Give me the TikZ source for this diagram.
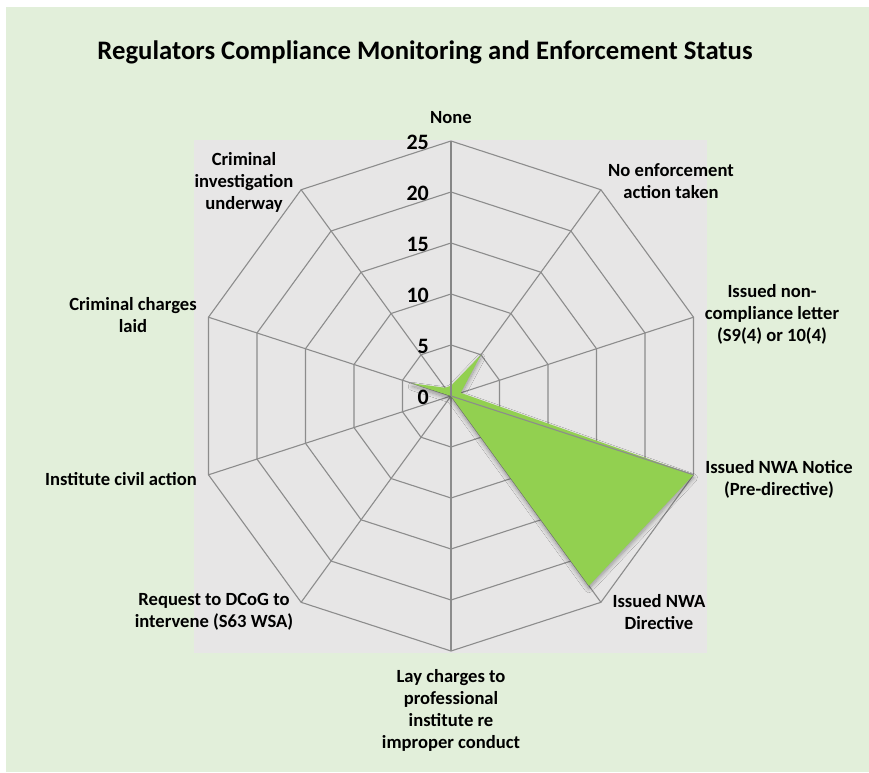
\documentclass[tikz,border=0pt]{standalone}
\usepackage{fontspec}
\setmainfont{Carlito}
\usetikzlibrary{shadows.blur}
\definecolor{bggreen}{HTML}{E2EFDA}
\definecolor{plotgray}{HTML}{E7E6E6}
\definecolor{gridgray}{HTML}{8C8C8C}
\definecolor{axisgray}{HTML}{868686}
\definecolor{datagreen}{HTML}{92D050}
\tikzset{
  gridline/.style={draw=gridgray, line width=1.1pt},
  valaxis/.style={draw=axisgray, line width=1.6pt},
  catlabel/.style={font=\bfseries\fontsize{18.6}{22}\selectfont, align=center, inner sep=0pt, text=black},
  ticklabel/.style={font=\bfseries\fontsize{22}{24}\selectfont, anchor=east, inner sep=0pt, text=black},
  titlelabel/.style={font=\bfseries\fontsize{26.7}{30}\selectfont, inner sep=0pt, text=black},
  series/.style={fill=datagreen, blur shadow={shadow xshift=0pt, shadow yshift=-3pt, shadow blur radius=4pt, shadow blur steps=8, shadow opacity=35}}
}
\begin{document}
\begin{tikzpicture}[x=1pt,y=-1pt]
\useasboundingbox (0,0) rectangle (869,772);
\fill[white] (0,0) rectangle (869,772);
\fill[bggreen] (6,7) rectangle (869,772);
\fill[plotgray] (194,140) rectangle (707,653);

\node[titlelabel] (title) at (425,52) {Regulators Compliance Monitoring and Enforcement Status};

\begin{scope}[shift={(451,396)}]
  \coordinate (c) at (0,0);
  % decagon gridlines
  \foreach \k in {5,10,15,20,25} {
    \draw[gridline] (-90:{10.2*\k}) \foreach \i in {1,...,9} { -- ({36*\i-90}:{10.2*\k}) } -- cycle;
  }
  % spokes
  \foreach \i in {1,...,9} {
    \coordinate (v\i) at ({36*\i-90}:255);
    \draw[gridline] (c) -- (v\i);
  }
  \coordinate (v0) at (-90:255);
  % data series
  \coordinate (d0) at (-90:10.2);
  \coordinate (d1) at (-54:51);
  \coordinate (d2) at (-18:10.2);
  \coordinate (d3) at (18:255);
  \coordinate (d4) at (54:234.6);
  \coordinate (d8) at (198:40.8);
  \coordinate (d9) at (234:10.2);
  \path[series] (d0) -- (d1) -- (d2) -- (d3) -- (d4) -- (c) -- (d8) -- (d9) -- cycle;
  \draw[gridline] (c) -- (v3);
  \draw[valaxis] (c) -- (v0);
\end{scope}

% value axis tick labels
\node[ticklabel] (t0) at (429,397) {0};
\node[ticklabel] (t5) at (429,346) {5};
\node[ticklabel] (t10) at (429,295) {10};
\node[ticklabel] (t15) at (429,244) {15};
\node[ticklabel] (t20) at (429,193) {20};
\node[ticklabel] (t25) at (429,142) {25};

% category labels
\node[catlabel] (l0) at (451,118) {None};
\node[catlabel] (l1) at (671,181) {No enforcement\\action taken};
\node[catlabel] (l2) at (772,314) {Issued non-\\compliance letter\\(S9(4) or 10(4)};
\node[catlabel] (l3) at (779,479) {Issued NWA Notice\\(Pre-directive)};
\node[catlabel] (l4) at (659,612) {Issued NWA\\Directive};
\node[catlabel] (l5) at (451,710) {Lay charges to\\professional\\institute re\\improper conduct};
\node[catlabel] (l6) at (214,612) {Request to DCoG to\\intervene (S63 WSA)};
\node[catlabel] (l7) at (121,479) {Institute civil action};
\node[catlabel] (l8) at (133,315) {Criminal charges\\laid};
\node[catlabel] (l9) at (244,182) {Criminal\\investigation\\underway};
\end{tikzpicture}
\end{document}
